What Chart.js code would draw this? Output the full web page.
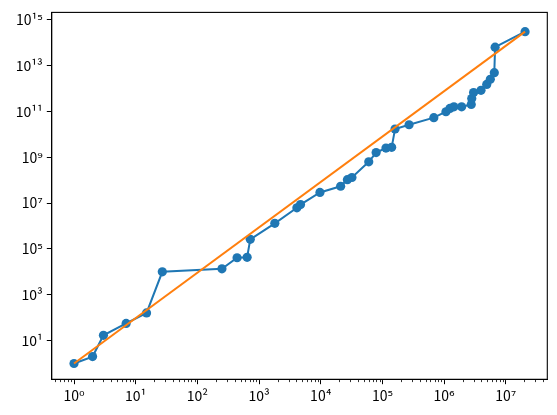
<!DOCTYPE html>
<html><head><meta charset="utf-8">
<script src="https://cdn.jsdelivr.net/npm/chart.js@4"></script>
<style>html,body{margin:0;padding:0;background:#fff}canvas{display:block}</style>
</head><body>
<canvas id="c" width="557" height="415" style="width:557px;height:415px"></canvas>
<script>
// measured series (x, y)
const seriesX = [1, 2, 3, 7, 15, 27, 250, 440, 640, 720, 1800, 4100, 4700, 9700, 21000, 27000, 32000, 60000, 79000, 114000, 141000, 160000, 270000, 680000, 1.07e6, 1.24e6, 1.44e6, 1.92e6, 2.75e6, 2.8e6, 3.0e6, 3.96e6, 4.9e6, 5.6e6, 6.5e6, 6.7e6, 2.05e7];
const seriesY = [1, 2, 17, 56, 160, 1.0e4, 1.35e4, 4.1e4, 4.3e4, 2.6e5, 1.3e6, 6.2e6, 8.6e6, 2.9e7, 5.4e7, 1.05e8, 1.3e8, 6.3e8, 1.6e9, 2.5e9, 2.7e9, 1.7e10, 2.6e10, 5.3e10, 9.6e10, 1.35e11, 1.58e11, 1.58e11, 2.0e11, 3.6e11, 6.6e11, 8.3e11, 1.5e12, 2.5e12, 4.9e12, 6.3e13, 3.0e14];
// fitted line endpoints
const fitX = [1, 2.05e7];
const fitY = [1, 3.0e14];
// tick values
const xTicks = [1, 10, 100, 1e3, 1e4, 1e5, 1e6, 1e7];
const yTicks = [10, 1e3, 1e5, 1e7, 1e9, 1e11, 1e13, 1e15];

const SUP = {'0':'⁰','1':'¹','2':'²','3':'³','4':'⁴','5':'⁵','6':'⁶','7':'⁷','8':'⁸','9':'⁹','-':'⁻'};
function fmt(v){ const e = Math.round(Math.log10(v)); return '10' + String(e).split('').map(c => SUP[c]).join(''); }

const FONT = {family: '"Noto Sans CJK JP", "DejaVu Sans", sans-serif', size: 14};

const frame = {
  id: 'frame',
  afterDraw(chart){
    const {ctx, chartArea: a, scales} = chart;
    ctx.save();
    ctx.strokeStyle = '#000';
    ctx.lineWidth = 1.1;
    ctx.strokeRect(a.left, a.top, a.right - a.left, a.bottom - a.top);
    // minor x ticks
    const sx = scales.x;
    ctx.lineWidth = 0.8;
    for (let k = -1; k <= 7; k++) {
      for (let m = 2; m <= 9; m++) {
        const v = m * Math.pow(10, k);
        if (v < sx.min || v > sx.max) continue;
        const px = Math.round(sx.getPixelForValue(v)) + 0.5;
        ctx.beginPath();
        ctx.moveTo(px, a.bottom);
        ctx.lineTo(px, a.bottom + 2.8);
        ctx.stroke();
      }
    }
    ctx.restore();
  }
};

new Chart(document.getElementById('c'), {
  type: 'scatter',
  data: {
    datasets: [
      {
        data: fitX.map((x, i) => ({x, y: fitY[i]})),
        showLine: true, borderColor: '#ff7f0e', borderWidth: 2, pointRadius: 0, order: 0
      },
      {
        data: seriesX.map((x, i) => ({x, y: seriesY[i]})),
        showLine: true, borderColor: '#1f77b4', backgroundColor: '#1f77b4',
        borderWidth: 2, pointRadius: 4.6, pointBorderWidth: 0, order: 1
      }
    ]
  },
  options: {
    responsive: false, animation: false,
    layout: {padding: {top: 10, right: 9.7, left: 0, bottom: 0}},
    plugins: {legend: {display: false}, tooltip: {enabled: false}},
    scales: {
      x: {
        type: 'logarithmic', min: 0.435, max: 4.7e7,
        afterBuildTicks: s => { s.ticks = xTicks.map(v => ({value: v})); },
        afterFit: s => { s.height = 35.7; },
        ticks: {callback: v => fmt(v), color: '#000', font: FONT, padding: 3, maxRotation: 0, autoSkip: false},
        grid: {drawOnChartArea: false, drawTicks: true, tickLength: 4.9, tickColor: '#000', tickWidth: 1},
        border: {display: true, color: '#000', width: 1.1}
      },
      y: {
        type: 'logarithmic', min: 0.204, max: 2.08e15,
        afterBuildTicks: s => { s.ticks = yTicks.map(v => ({value: v})); },
        afterFit: s => { s.width = 51.7; },
        ticks: {callback: v => fmt(v), color: '#000', font: FONT, padding: 4, autoSkip: false},
        grid: {drawOnChartArea: false, drawTicks: true, tickLength: 4.9, tickColor: '#000', tickWidth: 1},
        border: {display: true, color: '#000', width: 1.1}
      }
    }
  },
  plugins: [frame]
});
</script>
</body></html>
